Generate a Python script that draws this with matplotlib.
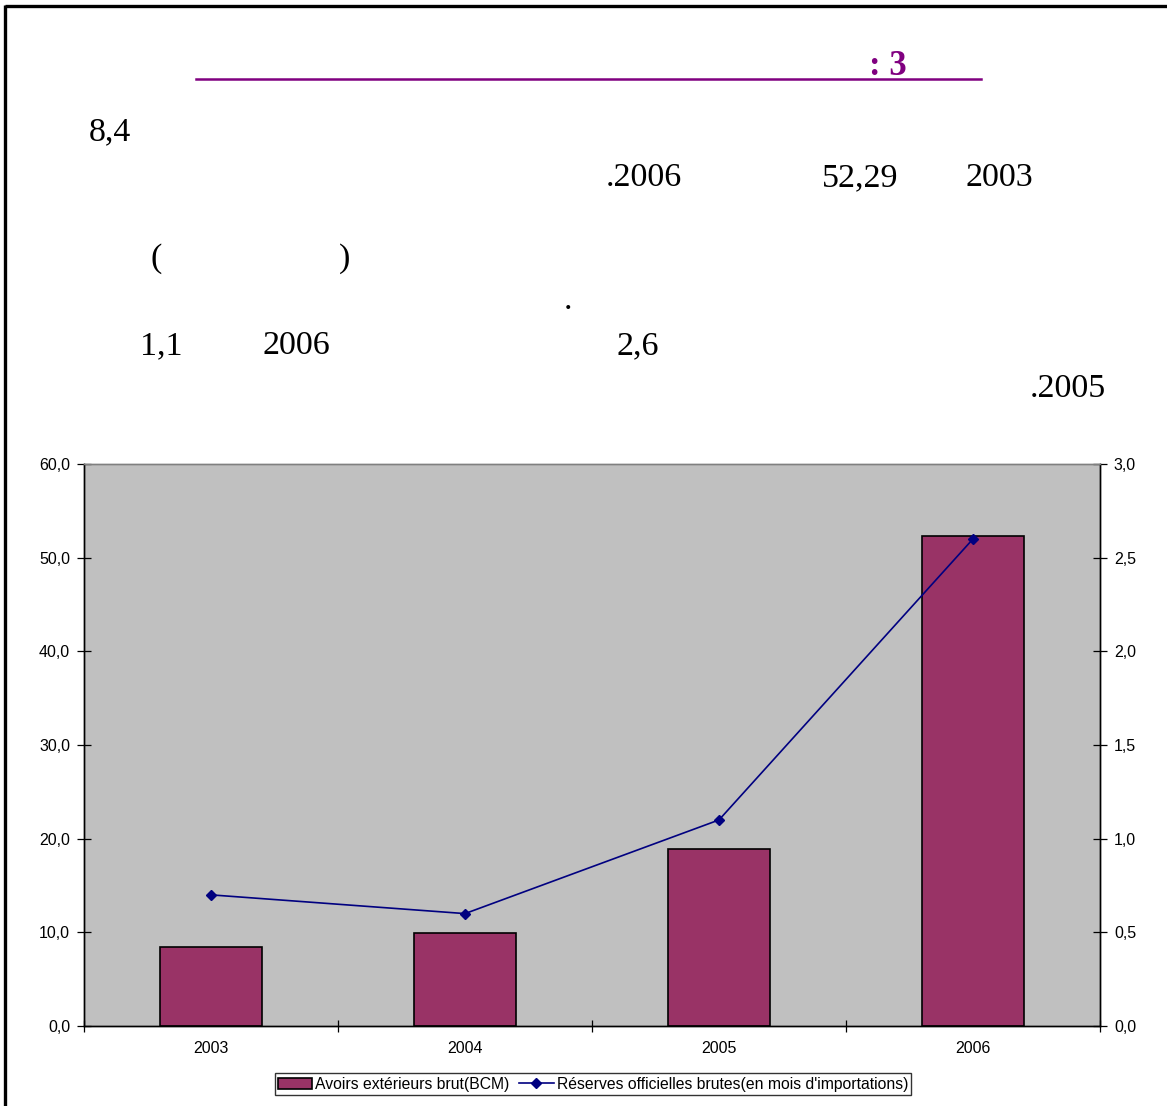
import matplotlib
matplotlib.use("Agg")
import matplotlib.pyplot as plt
from matplotlib.lines import Line2D
from matplotlib.ticker import FuncFormatter, FixedLocator

# ---- data ----
years = ["2003", "2004", "2005", "2006"]
avoirs_bcm = [8.4, 9.9, 18.9, 52.29]          # Avoirs extérieurs brut (BCM)
reserves_mois = [0.7, 0.6, 1.1, 2.6]          # Réserves officielles brutes (mois d'importations)
left_ticks = [0, 10, 20, 30, 40, 50, 60]
right_ticks = [0, 0.5, 1.0, 1.5, 2.0, 2.5, 3.0]
bar_label = "Avoirs extérieurs brut(BCM)"
line_label = "Réserves officielles brutes(en mois d'importations)"

W, H = 1167, 1106
fig = plt.figure(figsize=(W / 100, H / 100), dpi=100)
fig.patch.set_facecolor("white")

def fx(px):
    return px / W

def fy(py):
    return 1 - py / H

# page frame (top and left rules)
fig.add_artist(Line2D([fx(4.5), fx(1167)], [fy(6), fy(6)], color="black", lw=2.4,
                      solid_capstyle="butt"))
fig.add_artist(Line2D([fx(4.5), fx(4.5)], [fy(5), fy(1106)], color="black", lw=2.4,
                      solid_capstyle="butt"))

# heading
purple = "#800080"
fig.text(fx(907), fy(75), ": 3", color=purple, fontsize=25, fontweight="bold",
         family=["Liberation Serif", "DejaVu Serif"], ha="right", va="baseline")
fig.add_artist(Line2D([fx(196), fx(981)], [fy(78.5), fy(78.5)], color=purple, lw=1.8))

# body text fragments (numbers visible in the paragraph)
serif = ["Liberation Serif", "DejaVu Serif"]
frags = [
    ("8,4", 89, 140, "left"),
    (".2006", 682, 186, "right"),
    ("52,29", 898, 186, "right"),
    ("2003", 1033, 186, "right"),
    ("(", 150, 267, "left"),
    (")", 350, 267, "right"),
    (".", 572, 309, "right"),
    ("1,1", 140, 354, "left"),
    ("2006", 262, 354, "left"),
    ("2,6", 659, 354, "right"),
    (".2005", 1106, 397, "right"),
]
for txt, x, y, ha in frags:
    fig.text(fx(x), fy(y), txt, fontsize=24.5, family=serif, ha=ha, va="baseline", color="black")

# ---- chart ----
ax = fig.add_axes([fx(84), fy(1026), fx(1100) - fx(84), fy(464) - fy(1026)])
ax.set_facecolor("#C0C0C0")
xs = list(range(len(years)))
bars = ax.bar(xs, avoirs_bcm, width=0.4, color="#993366", edgecolor="black", linewidth=1.2,
              label=bar_label, zorder=2)
ax.set_xlim(-0.5, len(years) - 0.5)
ax.set_ylim(0, 60)
ax.set_yticks(left_ticks)
comma = FuncFormatter(lambda v, p: f"{v:.1f}".replace(".", ","))
ax.yaxis.set_major_formatter(comma)

ax.xaxis.set_major_locator(FixedLocator([i - 0.5 for i in range(len(years) + 1)]))
ax.xaxis.set_minor_locator(FixedLocator(xs))
ax.set_xticklabels([], minor=False)
ax.set_xticklabels(years, minor=True)
ax.tick_params(axis="x", which="major", direction="inout", length=9, width=0.9)
ax.tick_params(axis="x", which="minor", length=0, pad=11)
ax.tick_params(axis="y", direction="inout", length=10, width=0.9, pad=5)

ax2 = ax.twinx()
ax2.plot(xs, reserves_mois, color="#000080", lw=1.2, marker="D", markersize=5,
         label=line_label, zorder=3)
ax2.set_ylim(0, 3)
ax2.set_yticks(right_ticks)
ax2.yaxis.set_major_formatter(comma)
ax2.tick_params(axis="y", direction="inout", length=10, width=0.9, pad=5)

sans = ["Liberation Sans", "DejaVu Sans"]
for a in (ax, ax2):
    for lab in a.get_yticklabels() + a.get_xticklabels(which="both"):
        lab.set_fontfamily(sans)
        lab.set_fontsize(11.5)
        lab.set_color("black")

for a in (ax, ax2):
    a.spines["top"].set_color("#808080")
    a.spines["top"].set_linewidth(1.0)
    a.spines["left"].set_color("black")
    a.spines["right"].set_color("black")
    a.spines["bottom"].set_color("black")
    for s in ("left", "right", "bottom"):
        a.spines[s].set_linewidth(1.0)

h1, l1 = ax.get_legend_handles_labels()
h2, l2 = ax2.get_legend_handles_labels()
leg = fig.legend(h1 + h2, l1 + l2, loc="center", bbox_to_anchor=(fx(593), fy(1084)),
                 ncol=2, frameon=True, fancybox=False, prop={"family": sans, "size": 11.3},
                 handlelength=2.2, handletextpad=0.2, columnspacing=0.6,
                 borderpad=0.2, borderaxespad=0)
leg.get_frame().set_edgecolor("black")
leg.get_frame().set_linewidth(1.0)

fig.savefig("out.png", dpi=100)
